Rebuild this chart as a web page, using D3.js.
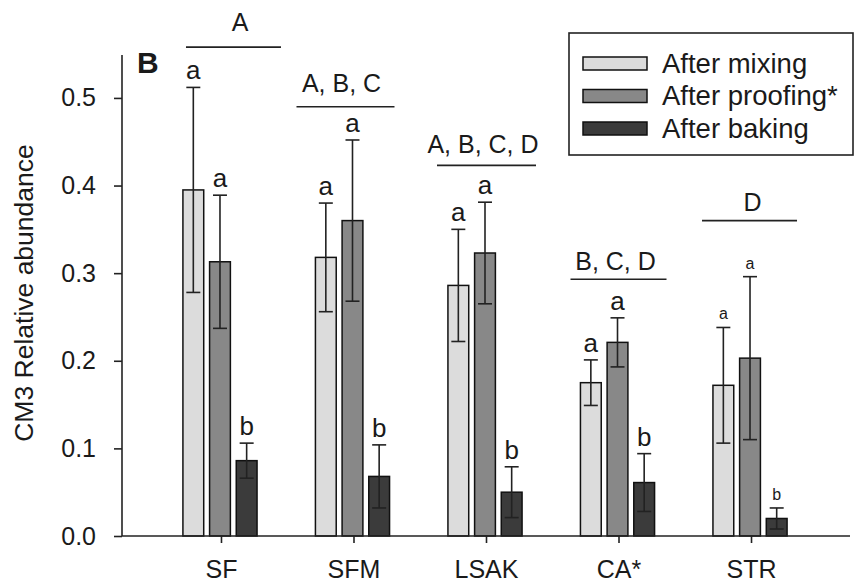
<!DOCTYPE html>
<html>
<head>
    <title>CM3 Relative abundance</title>
    <style>
        html, body {
            margin: 0;
            padding: 0;
            background: white;
        }
        svg text {
            font-family: 'Liberation Sans', Arial, sans-serif;
            fill: #1a1a1a;
        }
    </style>
</head>
<body>
    <div id="chart"></div>

    <script src="https://cdnjs.cloudflare.com/ajax/libs/d3/7.6.1/d3.min.js"></script>
    <script>
        // data
        const categories = ["SF", "SFM", "LSAK", "CA*", "STR"];
        const series = ["After mixing", "After proofing*", "After baking"];

        const mixing = [0.395, 0.318, 0.286, 0.175, 0.172];
        const proofing = [0.313, 0.360, 0.323, 0.221, 0.203];
        const baking = [0.086, 0.068, 0.050, 0.061, 0.020];

        const mixingErr = [0.117, 0.062, 0.064, 0.026, 0.066];
        const proofingErr = [0.076, 0.092, 0.058, 0.028, 0.093];
        const bakingErr = [0.020, 0.036, 0.029, 0.033, 0.012];

        const mixingLetters = ["a", "a", "a", "a", "a"];
        const proofingLetters = ["a", "a", "a", "a", "a"];
        const bakingLetters = ["b", "b", "b", "b", "b"];

        // letters over each group and the level of the line under them
        const groupLetters = ["A", "A, B, C", "A, B, C, D", "B, C, D", "D"];
        const groupLevel = [0.558, 0.490, 0.423, 0.293, 0.360];

        const yTicks = [0.0, 0.1, 0.2, 0.3, 0.4, 0.5];

        const width = 856, height = 584;
        const plotLeft = 122, plotRight = 850, plotTop = 55, plotBottom = 536;

        const colors = ["#dcdcdc", "#888888", "#3b3b3b"];

        const svg = d3.select("#chart")
            .append("svg")
            .attr("width", width)
            .attr("height", height);

        const x0 = d3.scalePoint()
            .domain(categories)
            .range([plotLeft, plotRight])
            .padding(0.747);

        const x1 = d3.scaleBand()
            .domain(series)
            .range([-41, 39])
            .paddingInner(0.22)
            .paddingOuter(0.11);

        const y = d3.scaleLinear()
            .domain([0, 0.549])
            .range([plotBottom, plotTop]);

        const rows = [];
        const vals = [mixing, proofing, baking];
        const errs = [mixingErr, proofingErr, bakingErr];
        const letters = [mixingLetters, proofingLetters, bakingLetters];
        series.forEach((s, si) => {
            categories.forEach((c, ci) => {
                rows.push({ cat: c, ser: s, si: si, v: vals[si][ci], e: errs[si][ci], l: letters[si][ci] });
            });
        });

        // bars
        svg.append("g").selectAll("rect")
            .data(rows)
            .enter()
            .append("rect")
            .attr("x", d => x0(d.cat) + x1(d.ser))
            .attr("y", d => y(d.v))
            .attr("width", x1.bandwidth())
            .attr("height", d => y(0) - y(d.v))
            .attr("fill", d => colors[d.si])
            .attr("stroke", "#111")
            .attr("stroke-width", 1.5);

        // error bars
        const eb = svg.append("g")
            .attr("stroke", "#222")
            .attr("stroke-width", 1.6);

        rows.forEach(d => {
            const cx = x0(d.cat) + x1(d.ser) + x1.bandwidth() / 2;
            const hi = y(d.v + d.e), lo = y(d.v - d.e);
            eb.append("line").attr("x1", cx).attr("x2", cx).attr("y1", hi).attr("y2", lo);
            eb.append("line").attr("x1", cx - 7).attr("x2", cx + 7).attr("y1", hi).attr("y2", hi);
            eb.append("line").attr("x1", cx - 7).attr("x2", cx + 7).attr("y1", lo).attr("y2", lo);
        });

        // letters above error bars
        svg.append("g").selectAll("text")
            .data(rows)
            .enter()
            .append("text")
            .attr("x", d => x0(d.cat) + x1(d.ser) + x1.bandwidth() / 2)
            .attr("y", d => y(d.v + d.e) - 8)
            .attr("text-anchor", "middle")
            .style("font-size", d => d.cat == "STR" ? "16px" : "26px")
            .text(d => d.l);

        // group letters with a line below them
        const lineSpan = [[-35, 60], [-57, 41], [-49, 50], [-48, 48], [-49, 46]];
        const textShift = [19, -12, -3, -3, 1.5];
        const textLift = [16, 15, 12, 9, 10];

        categories.forEach((c, i) => {
            const ly = y(groupLevel[i]);
            svg.append("line")
                .attr("x1", x0(c) + lineSpan[i][0])
                .attr("x2", x0(c) + lineSpan[i][1])
                .attr("y1", ly)
                .attr("y2", ly)
                .attr("stroke", "#222")
                .attr("stroke-width", 1.6);
            svg.append("text")
                .attr("x", x0(c) + textShift[i])
                .attr("y", ly - textLift[i])
                .attr("text-anchor", "middle")
                .style("font-size", "25px")
                .text(groupLetters[i]);
        });

        // axes
        const yAxis = d3.axisLeft(y)
            .tickValues(yTicks)
            .tickFormat(d3.format(".1f"))
            .tickSize(8)
            .tickPadding(18);

        const yg = svg.append("g")
            .attr("transform", "translate(" + plotLeft + ",0)")
            .call(yAxis);
        yg.select(".domain").attr("d", "M0," + plotTop + "V" + plotBottom);

        const xAxis = d3.axisBottom(x0)
            .tickSize(7)
            .tickPadding(17);

        const xg = svg.append("g")
            .attr("transform", "translate(0," + plotBottom + ")")
            .call(xAxis);
        xg.select(".domain").attr("d", "M" + plotLeft + ",0H" + plotRight);

        [yg, xg].forEach(g => {
            g.selectAll("path, line").attr("stroke", "#222").attr("stroke-width", 1.6);
            g.selectAll("text")
                .style("font-size", "25px")
                .style("font-family", "'Liberation Sans', Arial, sans-serif")
                .attr("fill", "#1a1a1a");
        });

        // axis title
        svg.append("text")
            .attr("transform", "translate(33,293) rotate(-90)")
            .attr("text-anchor", "middle")
            .style("font-size", "26.5px")
            .text("CM3 Relative abundance");

        // panel letter
        svg.append("text")
            .attr("x", 137)
            .attr("y", 73)
            .style("font-size", "30px")
            .style("font-weight", "bold")
            .text("B");

        // legend
        const legend = svg.append("g");
        legend.append("rect")
            .attr("x", 569)
            .attr("y", 33)
            .attr("width", 284)
            .attr("height", 122)
            .attr("fill", "white")
            .attr("stroke", "#222")
            .attr("stroke-width", 1.6);

        series.forEach((s, i) => {
            const ry = 63.5 + i * 32.5;
            legend.append("rect")
                .attr("x", 583)
                .attr("y", ry - 6.5)
                .attr("width", 64)
                .attr("height", 13)
                .attr("fill", colors[i])
                .attr("stroke", "#111")
                .attr("stroke-width", 1.5);
            legend.append("text")
                .attr("x", 662)
                .attr("y", ry + 9)
                .style("font-size", "27.5px")
                .text(s);
        });
    </script>
</body>
</html>
